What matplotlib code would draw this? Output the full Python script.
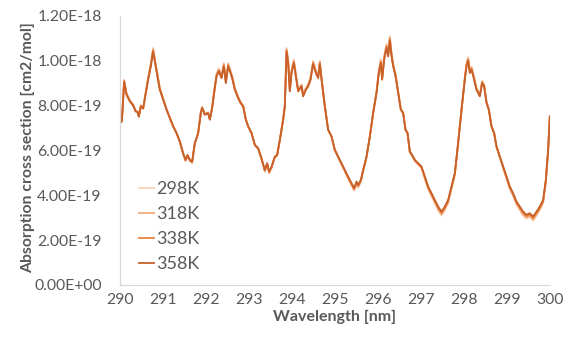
import matplotlib
matplotlib.use("Agg")
import matplotlib.pyplot as plt
from matplotlib.ticker import FixedLocator

plt.rcParams['font.family'] = ['Lato', 'DejaVu Sans']

wavelength = [
    290.000, 290.047, 290.100, 290.156, 290.233, 290.309, 290.365, 290.412, 290.442, 290.488,
    290.542, 290.598, 290.658, 290.721, 290.774, 290.853, 290.930, 291.007, 291.086, 291.163,
    291.240, 291.319, 291.395, 291.472, 291.528, 291.574, 291.628, 291.681, 291.744, 291.821,
    291.884, 291.914, 291.977, 292.053, 292.093, 292.147, 292.209, 292.249, 292.302, 292.365,
    292.419, 292.465, 292.519, 292.574, 292.621, 292.674, 292.751, 292.807, 292.867, 292.930,
    292.984, 293.063, 293.140, 293.216, 293.295, 293.372, 293.426, 293.472, 293.528, 293.605,
    293.658, 293.721, 293.798, 293.837, 293.877, 293.914, 293.953, 293.993, 294.047, 294.093,
    294.147, 294.226, 294.263, 294.326, 294.379, 294.435, 294.495, 294.558, 294.612, 294.651,
    294.691, 294.767, 294.844, 294.923, 295.000, 295.077, 295.156, 295.233, 295.309, 295.388,
    295.449, 295.505, 295.542, 295.605, 295.658, 295.737, 295.814, 295.891, 295.970, 296.023,
    296.070, 296.100, 296.147, 296.202, 296.240, 296.279, 296.319, 296.356, 296.412, 296.472,
    296.535, 296.588, 296.644, 296.691, 296.744, 296.798, 296.860, 296.937, 297.016, 297.093,
    297.170, 297.249, 297.326, 297.402, 297.481, 297.558, 297.635, 297.714, 297.791, 297.867,
    297.947, 298.023, 298.063, 298.100, 298.140, 298.179, 298.240, 298.295, 298.372, 298.426,
    298.472, 298.528, 298.581, 298.644, 298.705, 298.760, 298.837, 298.914, 298.993, 299.070,
    299.147, 299.226, 299.302, 299.379, 299.458, 299.535, 299.612, 299.691, 299.767, 299.844,
    299.907, 299.960, 300.000,
]

# absorption cross sections, in units of 1e-19 cm2/mol
xs_298K = [
    7.22, 7.33, 9.16, 8.56, 8.25, 8.06, 7.79, 7.75, 7.54, 8.02,
    7.91, 8.56, 9.27, 9.90, 10.58, 9.66, 8.80, 8.33, 7.86, 7.47,
    7.08, 6.77, 6.38, 5.83, 5.52, 5.75, 5.52, 5.43, 6.31, 6.77,
    7.72, 7.95, 7.63, 7.70, 7.40, 7.95, 8.88, 9.43, 9.66, 9.34,
    9.90, 9.11, 9.90, 9.58, 9.27, 8.80, 8.41, 8.18, 8.02, 7.40,
    7.08, 6.77, 6.22, 6.06, 5.59, 5.05, 5.36, 4.97, 5.20, 5.68,
    5.75, 6.45, 7.40, 8.02, 10.58, 10.06, 8.72, 9.58, 10.06, 9.43,
    8.72, 8.95, 8.49, 8.80, 8.95, 9.27, 10.00, 9.58, 9.34, 10.00,
    9.27, 8.02, 6.93, 6.61, 5.99, 5.68, 5.36, 5.05, 4.73, 4.43,
    4.20, 4.50, 4.34, 4.58, 5.05, 5.68, 6.61, 7.70, 8.65, 9.58,
    10.06, 9.27, 10.20, 10.76, 10.36, 11.11, 10.36, 9.90, 9.43, 8.65,
    7.86, 7.70, 6.93, 6.77, 5.91, 5.75, 5.52, 5.36, 5.20, 4.73,
    4.27, 3.95, 3.64, 3.33, 3.09, 3.33, 3.64, 4.27, 4.90, 6.31,
    7.86, 9.27, 9.90, 10.16, 9.58, 9.74, 9.27, 8.80, 8.49, 9.11,
    8.95, 8.18, 7.86, 7.08, 6.77, 6.15, 5.68, 5.20, 4.73, 4.27,
    3.95, 3.57, 3.33, 3.09, 2.95, 3.02, 2.86, 3.09, 3.33, 3.64,
    4.58, 5.96, 7.54,
]
xs_318K = [
    7.21, 7.32, 9.12, 8.53, 8.23, 8.04, 7.77, 7.73, 7.52, 8.00,
    7.89, 8.53, 9.23, 9.85, 10.52, 9.61, 8.76, 8.31, 7.84, 7.46,
    7.08, 6.77, 6.39, 5.85, 5.54, 5.77, 5.54, 5.46, 6.32, 6.77,
    7.71, 7.93, 7.62, 7.69, 7.39, 7.93, 8.85, 9.38, 9.61, 9.30,
    9.85, 9.07, 9.85, 9.54, 9.23, 8.76, 8.38, 8.15, 8.00, 7.39,
    7.08, 6.77, 6.23, 6.08, 5.61, 5.08, 5.38, 5.00, 5.23, 5.70,
    5.77, 6.46, 7.39, 8.00, 10.52, 10.00, 8.69, 9.54, 10.00, 9.38,
    8.69, 8.92, 8.46, 8.76, 8.92, 9.23, 9.95, 9.54, 9.30, 9.95,
    9.23, 8.00, 6.93, 6.61, 6.00, 5.70, 5.38, 5.08, 4.76, 4.47,
    4.24, 4.54, 4.38, 4.62, 5.08, 5.70, 6.61, 7.69, 8.62, 9.54,
    10.00, 9.23, 10.15, 10.70, 10.30, 11.04, 10.30, 9.85, 9.38, 8.62,
    7.84, 7.69, 6.93, 6.77, 5.92, 5.77, 5.54, 5.38, 5.23, 4.76,
    4.31, 4.00, 3.69, 3.39, 3.15, 3.39, 3.69, 4.31, 4.93, 6.32,
    7.84, 9.23, 9.85, 10.11, 9.54, 9.69, 9.23, 8.76, 8.46, 9.07,
    8.92, 8.15, 7.84, 7.08, 6.77, 6.16, 5.70, 5.23, 4.76, 4.31,
    4.00, 3.62, 3.39, 3.15, 3.01, 3.08, 2.92, 3.15, 3.39, 3.69,
    4.62, 5.97, 7.52,
]
xs_338K = [
    7.21, 7.31, 9.09, 8.51, 8.20, 8.02, 7.76, 7.72, 7.51, 7.98,
    7.88, 8.51, 9.19, 9.80, 10.46, 9.57, 8.73, 8.28, 7.83, 7.45,
    7.07, 6.77, 6.39, 5.86, 5.56, 5.78, 5.56, 5.48, 6.32, 6.77,
    7.69, 7.91, 7.60, 7.67, 7.38, 7.91, 8.81, 9.34, 9.57, 9.26,
    9.80, 9.04, 9.80, 9.49, 9.19, 8.73, 8.36, 8.13, 7.98, 7.38,
    7.07, 6.77, 6.24, 6.09, 5.63, 5.10, 5.41, 5.03, 5.25, 5.71,
    5.78, 6.46, 7.38, 7.98, 10.46, 9.95, 8.66, 9.49, 9.95, 9.34,
    8.66, 8.88, 8.44, 8.73, 8.88, 9.19, 9.90, 9.49, 9.26, 9.90,
    9.19, 7.98, 6.92, 6.62, 6.02, 5.71, 5.41, 5.10, 4.80, 4.50,
    4.28, 4.57, 4.42, 4.65, 5.10, 5.71, 6.62, 7.67, 8.59, 9.49,
    9.95, 9.19, 10.09, 10.63, 10.25, 10.97, 10.25, 9.80, 9.34, 8.59,
    7.83, 7.67, 6.92, 6.77, 5.94, 5.78, 5.56, 5.41, 5.25, 4.80,
    4.35, 4.04, 3.74, 3.44, 3.21, 3.44, 3.74, 4.35, 4.96, 6.32,
    7.83, 9.19, 9.80, 10.05, 9.49, 9.65, 9.19, 8.73, 8.44, 9.04,
    8.88, 8.13, 7.83, 7.07, 6.77, 6.17, 5.71, 5.25, 4.80, 4.35,
    4.04, 3.67, 3.44, 3.21, 3.07, 3.14, 2.99, 3.21, 3.44, 3.74,
    4.65, 5.99, 7.51,
]
xs_358K = [
    7.20, 7.30, 9.05, 8.48, 8.18, 8.00, 7.74, 7.70, 7.50, 7.96,
    7.86, 8.48, 9.15, 9.75, 10.40, 9.52, 8.70, 8.26, 7.81, 7.44,
    7.07, 6.77, 6.40, 5.88, 5.58, 5.80, 5.58, 5.50, 6.33, 6.77,
    7.68, 7.89, 7.59, 7.66, 7.37, 7.89, 8.78, 9.30, 9.52, 9.22,
    9.75, 9.00, 9.75, 9.45, 9.15, 8.70, 8.33, 8.11, 7.96, 7.37,
    7.07, 6.77, 6.25, 6.10, 5.65, 5.13, 5.43, 5.06, 5.28, 5.73,
    5.80, 6.47, 7.37, 7.96, 10.40, 9.90, 8.63, 9.45, 9.90, 9.30,
    8.63, 8.85, 8.41, 8.70, 8.85, 9.15, 9.85, 9.45, 9.22, 9.85,
    9.15, 7.96, 6.92, 6.62, 6.03, 5.73, 5.43, 5.13, 4.83, 4.54,
    4.32, 4.61, 4.46, 4.69, 5.13, 5.73, 6.62, 7.66, 8.56, 9.45,
    9.90, 9.15, 10.04, 10.57, 10.19, 10.90, 10.19, 9.75, 9.30, 8.56,
    7.81, 7.66, 6.92, 6.77, 5.95, 5.80, 5.58, 5.43, 5.28, 4.83,
    4.39, 4.09, 3.79, 3.50, 3.27, 3.50, 3.79, 4.39, 4.99, 6.33,
    7.81, 9.15, 9.75, 10.00, 9.45, 9.60, 9.15, 8.70, 8.41, 9.00,
    8.85, 8.11, 7.81, 7.07, 6.77, 6.18, 5.73, 5.28, 4.83, 4.39,
    4.09, 3.72, 3.50, 3.27, 3.13, 3.20, 3.05, 3.27, 3.50, 3.79,
    4.69, 6.00, 7.50,
]

series_labels = ["298K", "318K", "338K", "358K"]
series_colors = ["#F9D3BA", "#F2A97E", "#E8823F", "#C8602A"]
UNIT = 1e-19

x_ticks = [290, 291, 292, 293, 294, 295, 296, 297, 298, 299, 300]
y_ticks = [0.0, 2.0e-19, 4.0e-19, 6.0e-19, 8.0e-19, 1.0e-18, 1.2e-18]
y_tick_labels = ["0.00E+00", "2.00E-19", "4.00E-19", "6.00E-19", "8.00E-19", "1.00E-18", "1.20E-18"]

fig = plt.figure(figsize=(5.68, 3.38), dpi=100)
ax = fig.add_axes([0.211, 0.157, 0.757, 0.796])

for lab, col, ys in zip(series_labels, series_colors, [xs_298K, xs_318K, xs_338K, xs_358K]):
    ax.plot(wavelength, [v * UNIT for v in ys], color=col, lw=1.3, label=lab)

ax.set_xlim(290, 300)
ax.set_ylim(0, 1.2e-18)
ax.xaxis.set_major_locator(FixedLocator(x_ticks))
ax.set_xticklabels([str(t) for t in x_ticks])
ax.yaxis.set_major_locator(FixedLocator(y_ticks))
ax.set_yticklabels(y_tick_labels)

gray = "#595959"
ax.tick_params(axis="both", length=0, colors=gray, labelsize=11.3)
ax.tick_params(axis="y", pad=13)
ax.tick_params(axis="x", pad=6)
for s in ["top", "right"]:
    ax.spines[s].set_visible(False)
for s in ["left", "bottom"]:
    ax.spines[s].set_color("#D9D9D9")
    ax.spines[s].set_linewidth(0.9)

ax.set_xlabel("Wavelength [nm]", fontsize=11.5, fontweight="bold", color=gray, labelpad=2)
ax.set_ylabel("Absorption cross section [cm2/mol]", fontsize=11.3, fontweight="bold", color=gray)
ax.yaxis.set_label_coords(-0.198, 0.51)

leg = ax.legend(loc="upper left", bbox_to_anchor=(0.045, 0.385), frameon=False,
                fontsize=13, handlelength=0.8, handletextpad=0.15, labelspacing=0.5,
                borderpad=0, borderaxespad=0)
for t in leg.get_texts():
    t.set_color(gray)

fig.savefig("out.png", dpi=100, facecolor="white")
